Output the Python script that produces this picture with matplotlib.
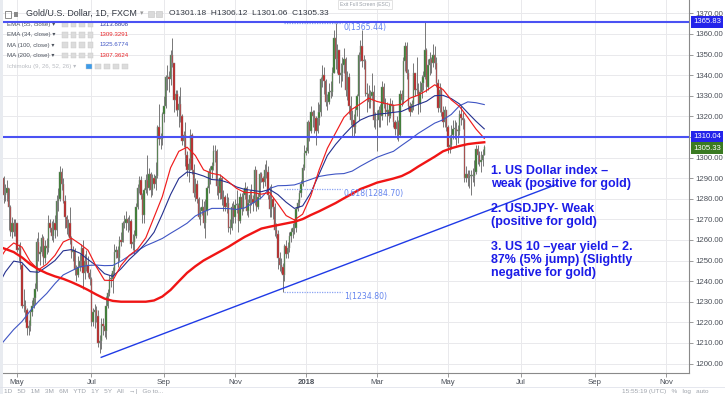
import numpy as np
import pandas as pd
import matplotlib
matplotlib.use("Agg")
import matplotlib.pyplot as plt
from matplotlib.patches import Rectangle

plt.rcParams['font.family'] = ['Liberation Sans', 'DejaVu Sans']

# ---------------- data (daily bars, Gold/USD, FXCM) ----------------
start_date = "2017-04-13"
first_open = 1284.0

close = [
    # Apr 2017
    1285, 1286, 1284, 1290, 1282, 1283, 1285, 1276, 1264, 1268, 1264, 1268,
    # May 2017
    1255, 1256, 1248, 1228, 1228, 1226, 1217, 1218, 1225, 1228, 1232, 1236, 1259, 1253, 1254, 1261, 1251, 1257, 1256, 1268, 1266, 1262, 1268,
    # Jun 2017
    1265, 1279, 1280, 1293, 1287, 1279, 1271, 1266, 1268, 1261, 1254, 1255, 1246, 1243, 1247, 1250, 1256, 1244, 1250, 1248, 1244, 1241,
    # Jul 2017
    1220, 1225, 1226, 1223, 1210, 1211, 1219, 1218, 1216, 1228, 1234, 1241, 1241, 1245, 1254, 1255, 1251, 1260, 1259, 1268, 1268,
    # Aug 2017
    1270, 1268, 1269, 1258, 1259, 1262, 1276, 1285, 1289, 1282, 1272, 1284, 1289, 1285, 1292, 1284, 1290, 1287, 1291, 1315, 1309, 1309, 1321,
    # Sep 2017
    1325, 1339, 1339, 1338, 1350, 1346, 1328, 1331, 1323, 1326, 1320, 1308, 1311, 1301, 1294, 1297, 1311, 1294, 1283, 1287, 1280,
    # Oct 2017
    1271, 1274, 1276, 1268, 1274, 1285, 1293, 1294, 1296, 1303, 1303, 1286, 1283, 1290, 1280, 1281, 1276, 1278, 1266, 1266, 1276, 1271,
    # Nov 2017
    1277, 1277, 1269, 1281, 1275, 1282, 1285, 1274, 1278, 1282, 1280, 1278, 1294, 1276, 1281, 1292, 1290, 1288, 1294, 1293, 1282, 1275,
    # Dec 2017
    1280, 1276, 1265, 1263, 1251, 1248, 1247, 1243, 1257, 1253, 1256, 1262, 1264, 1266, 1266, 1275, 1278, 1283, 1287, 1295, 1302,
    # Jan 2018
    1303, 1317, 1313, 1322, 1320, 1319, 1313, 1319, 1322, 1338, 1340, 1337, 1327, 1327, 1332, 1332, 1341, 1358, 1348, 1352, 1340, 1341, 1345,
    # Feb 2018
    1348, 1333, 1339, 1325, 1318, 1318, 1315, 1323, 1330, 1350, 1354, 1347, 1347, 1331, 1331, 1327, 1330, 1332, 1318, 1318,
    # Mar 2018
    1318, 1323, 1320, 1334, 1326, 1322, 1323, 1320, 1326, 1325, 1317, 1314, 1317, 1311, 1331, 1328, 1347, 1354, 1341, 1325, 1322, 1326,
    # Apr 2018
    1341, 1333, 1333, 1326, 1332, 1336, 1339, 1352, 1334, 1345, 1348, 1346, 1350, 1346, 1336, 1324, 1333, 1322, 1317, 1323, 1315,
    # May 2018
    1305, 1306, 1311, 1314, 1314, 1313, 1313, 1321, 1319, 1318, 1290, 1292, 1290, 1291, 1291, 1291, 1293, 1304, 1301, 1298, 1299, 1301.18, 1305.33,
]

high = [
    1289, 1288, 1295, 1292, 1291, 1287, 1289, 1285, 1277, 1271, 1270, 1270,
    1268, 1258, 1259, 1249, 1236, 1231, 1227, 1221, 1226, 1231, 1236, 1239, 1261, 1264, 1257, 1263, 1262, 1260, 1261, 1272, 1270, 1269, 1270,
    1272, 1282, 1285, 1296, 1295, 1290, 1282, 1272, 1270, 1276, 1262, 1257, 1256, 1248, 1252, 1253, 1258, 1260, 1253, 1255, 1252, 1246,
    1242, 1227, 1229, 1228, 1226, 1214, 1222, 1222, 1220, 1233, 1236, 1243, 1244, 1247, 1258, 1257, 1257, 1262, 1264, 1269, 1272,
    1274, 1271, 1272, 1270, 1263, 1265, 1278, 1287, 1291, 1291, 1283, 1285, 1292, 1301, 1295, 1293, 1292, 1292, 1298, 1316, 1326, 1312, 1322,
    1330, 1340, 1345, 1342, 1352, 1358, 1338, 1333, 1333, 1330, 1334, 1321, 1313, 1317, 1303, 1300, 1314, 1312, 1297, 1290, 1289,
    1281, 1276, 1280, 1279, 1280, 1286, 1295, 1296, 1298, 1306, 1306, 1304, 1289, 1292, 1291, 1284, 1282, 1283, 1281, 1270, 1278, 1279,
    1280, 1284, 1278, 1283, 1283, 1284, 1288, 1286, 1280, 1284, 1287, 1282, 1296, 1294, 1283, 1293, 1293, 1291, 1297, 1299, 1296, 1286,
    1287, 1281, 1278, 1268, 1265, 1254, 1251, 1249, 1258, 1260, 1259, 1264, 1266, 1268, 1270, 1276, 1280, 1284, 1289, 1297, 1306,
    1305, 1318, 1316, 1325, 1323, 1323, 1320, 1327, 1326, 1339, 1345, 1344, 1338, 1331, 1336, 1337, 1344, 1362, 1365.4, 1355, 1352, 1346, 1349,
    1353, 1349, 1342, 1341, 1330, 1323, 1321, 1325, 1331, 1351, 1357, 1362, 1350, 1348, 1336, 1335, 1333, 1341, 1335, 1322,
    1323, 1325, 1326, 1337, 1336, 1329, 1327, 1325, 1329, 1328, 1326, 1318, 1320, 1318, 1333, 1333, 1349, 1356, 1356, 1343, 1327, 1328,
    1346, 1341, 1349, 1336, 1337, 1340, 1342, 1366, 1353, 1348, 1351, 1349, 1355, 1354, 1349, 1338, 1336, 1334, 1325, 1325, 1323,
    1316, 1311, 1316, 1318, 1318, 1317, 1316, 1323, 1325, 1322, 1319, 1296, 1294, 1294, 1294, 1295, 1299, 1306, 1306, 1303, 1303, 1304, 1306.12,
]

low = [
    1278, 1283, 1282, 1281, 1278, 1279, 1279, 1265, 1262, 1261, 1262, 1262,
    1254, 1250, 1246, 1227, 1225, 1220, 1214, 1214, 1216, 1223, 1227, 1229, 1235, 1250, 1248, 1252, 1248, 1249, 1253, 1254, 1264, 1260, 1259,
    1261, 1262, 1274, 1279, 1284, 1278, 1266, 1263, 1262, 1258, 1251, 1250, 1243, 1240, 1242, 1245, 1247, 1236, 1241, 1245, 1242, 1238,
    1218, 1218, 1217, 1220, 1208, 1205, 1207, 1214, 1213, 1212, 1227, 1233, 1237, 1234, 1243, 1251, 1247, 1250, 1257, 1259, 1266,
    1265, 1264, 1265, 1256, 1255, 1253, 1261, 1275, 1283, 1280, 1268, 1268, 1283, 1282, 1284, 1281, 1282, 1285, 1284, 1290, 1306, 1304, 1306,
    1317, 1324, 1333, 1332, 1335, 1344, 1322, 1323, 1320, 1315, 1317, 1306, 1305, 1296, 1291, 1288, 1294, 1292, 1281, 1279, 1278,
    1270, 1267, 1272, 1266, 1261, 1272, 1283, 1287, 1290, 1294, 1298, 1282, 1280, 1280, 1277, 1274, 1274, 1273, 1264, 1263, 1265, 1268,
    1268, 1273, 1264, 1268, 1272, 1274, 1280, 1272, 1271, 1273, 1277, 1274, 1277, 1274, 1275, 1280, 1288, 1285, 1286, 1290, 1280, 1271,
    1271, 1270, 1262, 1261, 1246, 1245, 1244, 1234.8, 1240, 1251, 1251, 1254, 1259, 1261, 1263, 1264, 1274, 1276, 1281, 1286, 1294,
    1301, 1302, 1308, 1312, 1315, 1312, 1306, 1312, 1316, 1320, 1334, 1331, 1325, 1323, 1326, 1329, 1330, 1341, 1343, 1341, 1336, 1334, 1337,
    1341, 1330, 1328, 1321, 1316, 1310, 1310, 1312, 1320, 1318, 1347, 1344, 1343, 1330, 1322, 1324, 1324, 1328, 1315, 1314,
    1303, 1315, 1315, 1318, 1324, 1320, 1316, 1317, 1319, 1322, 1315, 1311, 1309, 1308, 1310, 1325, 1326, 1342, 1338, 1323, 1320, 1322,
    1323, 1330, 1331, 1321, 1322, 1329, 1333, 1338, 1332, 1333, 1340, 1341, 1344, 1343, 1334, 1322, 1322, 1320, 1315, 1315, 1313,
    1302, 1302, 1304, 1309, 1309, 1306, 1307, 1311, 1316, 1314, 1288, 1288, 1286, 1285, 1282, 1288, 1286, 1292, 1297, 1296, 1293, 1296, 1301.06,
]

# indicator values, one reading every 5 bars from the first bar
ma_step = 5
ema55 = [1237, 1244.5, 1249.7, 1249, 1244.6, 1244.3, 1247, 1250, 1254.7, 1255.3,
         1253.6, 1250.5, 1247.5, 1243.6, 1242.3, 1246, 1250.5, 1254.2, 1258.5, 1263.7,
         1272.5, 1282, 1289.8, 1293, 1292.3, 1291, 1289.3, 1289, 1287.8, 1285.7,
         1284.5, 1284, 1283.4, 1284.5, 1282, 1278.3, 1275.3, 1276.5, 1283, 1292,
         1301, 1306.4, 1311, 1315.2, 1318.2, 1320, 1321, 1321.4, 1321.9, 1322.4,
         1324.2, 1325.8, 1327.3, 1330, 1330.2, 1328.6, 1326, 1321.7, 1317.6, 1313.9]
ema34 = [1249, 1255, 1258.5, 1256.5, 1249.5, 1245.5, 1248.2, 1252.5, 1259, 1260.8,
         1258.1, 1255, 1247, 1240.4, 1240.3, 1247.6, 1252.5, 1255.5, 1261, 1271,
         1281, 1295, 1303, 1305, 1301, 1294, 1292.3, 1291.5, 1288.3, 1285,
         1283, 1283, 1282.2, 1283, 1277.5, 1271.8, 1269.7, 1272.5, 1281.5, 1294,
         1304.5, 1312, 1319.5, 1323.5, 1326, 1328.8, 1327.2, 1326.3, 1325.3, 1325.8,
         1328.8, 1330.3, 1332.5, 1335.3, 1333, 1328, 1324.8, 1319.4, 1313.8, 1309.3]
ma100 = [1207, 1211.8, 1216.5, 1220.4, 1225.6, 1230.1, 1234, 1238.8, 1243, 1245,
         1246.9, 1247.6, 1247.8, 1247.5, 1247.6, 1249.7, 1252.3, 1254.8, 1257.2, 1258.9,
         1260.7, 1263.2, 1265.6, 1268.1, 1271.6, 1273.6, 1275.3, 1275.3, 1275.2, 1274.8,
         1275.6, 1278, 1280.5, 1285, 1286.3, 1286.4, 1286.7, 1288, 1289.4, 1290.8,
         1291.5, 1292, 1292.2, 1293.4, 1295.8, 1298, 1300.1, 1301.6, 1303, 1305.9,
         1308.7, 1311.7, 1314.2, 1316.7, 1318.3, 1320.9, 1325.1, 1327, 1326.6, 1325.7]
ma200 = [1257, 1255.6, 1254.1, 1251.5, 1248.2, 1245.7, 1243.8, 1242.3, 1241.1, 1239.5,
         1237.7, 1235.7, 1233.5, 1231.5, 1230.4, 1230, 1230, 1230, 1230, 1230.6,
         1232.5, 1235.7, 1239.9, 1244.0, 1247.2, 1250.0, 1252.2, 1254.4, 1256.6, 1259.1,
         1261.5, 1263.5, 1265.5, 1266.4, 1267.2, 1268.0, 1268.8, 1270.1, 1272.1, 1273.9,
         1275.9, 1277.9, 1280.2, 1282.4, 1284.7, 1286.2, 1287.8, 1288.8, 1289.8, 1291.0,
         1293.0, 1295.6, 1298.0, 1300.4, 1303.0, 1304.5, 1305.6, 1306.5, 1307.0, 1307.4]

hline_levels = [1365.83, 1310.04]
last_price = 1305.33
trend_dates = ["2017-07-11", "2018-07-31"]
trend_prices = [1203.0, 1286.7]
fib_dates = ["2017-12-13", "2018-01-31"]
fib_high, fib_low = 1365.44, 1234.80
fib_levels = [0, 0.618, 1]

y_ticks = list(range(1200, 1371, 10))
month_ticks = [("2017-05-01", "May"), ("2017-07-03", "Jul"), ("2017-09-01", "Sep"),
               ("2017-11-01", "Nov"), ("2018-01-01", "2018"), ("2018-03-01", "Mar"),
               ("2018-05-01", "May"), ("2018-07-02", "Jul"), ("2018-09-03", "Sep"),
               ("2018-11-01", "Nov")]

notes = ["1. US Dollar index \u2013", "weak (positive for gold)",
         "2. USDJPY- Weak", "(positive for gold)",
         "3. US 10 \u2013year yield \u2013 2.", "87% (5% jump) (Slightly",
         "negative for gold)"]

legend_rows = [("EMA (55, close)", "1313.8808", "#2b3596"),
               ("EMA (34, close)", "1309.3291", "#e8262a"),
               ("MA (100, close)", "1325.6774", "#3f55c4"),
               ("MA (200, close)", "1307.3624", "#e8262a")]

# ---------------- derived ----------------
close = np.array(close, float)
high = np.array(high, float)
low = np.array(low, float)
n = len(close)
assert len(high) == n and len(low) == n
opens = np.r_[first_open, close[:-1]]
high = np.maximum(high, np.maximum(opens, close))
low = np.minimum(low, np.minimum(opens, close))
idx = np.arange(n)

all_days = pd.bdate_range(start_date, "2018-12-31")
def pos(d):
    return int(all_days.searchsorted(pd.Timestamp(d)))

W, H = 725, 394
fig = plt.figure(figsize=(W / 100, H / 100), dpi=100)
ax = fig.add_axes([0, 1 - 373 / H, 689 / W, 373 / H])
ax.set_xlim(1.70, 419.0)
ax.set_ylim(1195.39, 1376.46)

def fx(x):
    return x / W
def fy(y):
    return 1 - y / H

# grid
ax.set_axisbelow(True)
ax.grid(True, color='#e9e9ec', lw=0.7)

# candles
ax.vlines(idx, low, high, color='#6e6e6e', lw=0.65, zorder=2)
up = close >= opens
body = np.maximum(np.abs(close - opens), 0.35)
bottom = np.minimum(close, opens)
ax.bar(idx[up], body[up], bottom=bottom[up], width=0.82, color='#2c7a22',
       edgecolor='#8c8c8c', linewidth=0.35, zorder=3)
ax.bar(idx[~up], body[~up], bottom=bottom[~up], width=0.82, color='#c21a1a',
       edgecolor='#8c8c8c', linewidth=0.35, zorder=3)

# moving averages
ma_x = np.arange(0, n, ma_step)
ax.plot(ma_x, ma100, color='#3f55c4', lw=0.8, zorder=4)
ax.plot(ma_x, ema55, color='#24308f', lw=0.8, zorder=4)
ax.plot(ma_x, ema34, color='#f01c1c', lw=0.85, zorder=4)
ax.plot(ma_x, ma200, color='#f01515', lw=1.7, zorder=4)

# horizontal levels
for lv in hline_levels:
    ax.axhline(lv, color='#4b52f3', lw=1.5, zorder=6)

# trend line
ax.plot([pos(d) for d in trend_dates], trend_prices, color='#1f3ae6', lw=1.0, zorder=6)

# fibonacci
f0, f1 = pos(fib_dates[0]), pos(fib_dates[1])
for lv in fib_levels:
    p = fib_high - lv * (fib_high - fib_low)
    ax.plot([f0, f1], [p, p], color='#8aa3f3', lw=0.9, ls=(0, (1, 1)), zorder=5)
    lab = f"{lv:g}({p:.2f})"
    ax.text(f1 + 1, p, lab, color='#6384ee', fontsize=5.6, va='top', ha='left', zorder=7,
            family=['DejaVu Sans'])

# axes styling
ax.yaxis.tick_right()
ax.set_yticks(y_ticks)
# the 1310 label sits under the 1310.04 level box on the price scale
ax.set_yticklabels(["" if v == 1310 else f"{v:.2f}" for v in y_ticks])
ax.tick_params(axis='y', length=3, width=0.6, color='#8a8a8a', pad=1.5,
               labelsize=5.6, labelcolor='#4a4f58')
ax.set_xticks([pos(d) for d, _ in month_ticks])
ax.set_xticklabels([lab for _, lab in month_ticks])
ax.tick_params(axis='x', length=3, width=0.6, color='#8a8a8a', pad=1.5,
               labelsize=5.6, labelcolor='#4a4f58')
for t in ax.get_xticklabels():
    if t.get_text() == "2018":
        t.set_fontweight('bold')
for s in ['top', 'left']:
    ax.spines[s].set_visible(False)
for s in ['right', 'bottom']:
    ax.spines[s].set_color('#8a8a8a')
    ax.spines[s].set_linewidth(0.8)

# price labels on the axis
for val, txt, col in [(1365.83, "1365.83", '#2424ea'), (1310.04, "1310.04", '#2424ea'),
                      (1304.6, f"{last_price:.2f}", '#3a7a22')]:
    ax.text(1.006, val, txt, transform=ax.get_yaxis_transform(), fontsize=5.6,
            color='white', va='center', ha='left', zorder=10, clip_on=False,
            bbox=dict(boxstyle='square,pad=0.28', fc=col, ec='none'))

# annotation text
note_y = [171, 184, 209, 222, 247, 260, 273]
for t, y in zip(notes, note_y):
    fig.text(fx(491), fy(y), t, color='#1c1ce8', fontsize=9, fontweight='bold',
             va='center', ha='left')

# top legend
tf = fig.transFigure
ax.text(fx(26), fy(13.5), "Gold/U.S. Dollar, 1D, FXCM", transform=tf, fontsize=6.4,
        color='#333842', va='center', ha='left', zorder=1)
ax.text(fx(140), fy(13.5), "\u25be", transform=tf, fontsize=5, color='#9a9a9a',
        va='center', zorder=1)
ax.text(fx(169), fy(13.5), "O1301.18  H1306.12  L1301.06  C1305.33", transform=tf,
        fontsize=6.0, color='#333842', va='center', ha='left', zorder=1)
fig.patches.append(Rectangle((fx(5), fy(17.5)), 6 / W, 7 / H, transform=tf,
                             fc='none', ec='#7a7a7a', lw=0.6))
fig.patches.append(Rectangle((fx(14), fy(16.5)), 4 / W, 5 / H, transform=tf,
                             fc='#8a8a8a', ec='none'))
for x0 in (148, 156):
    fig.patches.append(Rectangle((fx(x0), fy(17)), 6 / W, 6 / H, transform=tf,
                                 fc='#dadada', ec='#c4c4c4', lw=0.4))

row_y = [24.3, 34.7, 45, 55.3]
for (name, val, col), y in zip(legend_rows, row_y):
    ax.text(fx(7), fy(y), name + " \u25be", transform=tf, fontsize=4.4, color='#4d535e',
            va='center', ha='left', zorder=1)
    for x0 in (62, 70.5, 79, 87.5):
        r = Rectangle((fx(x0), fy(y + 2.8)), 5.5 / W, 5.5 / H, transform=tf,
                      fc='#dcdcdc', ec='#c8c8c8', lw=0.3, zorder=1)
        ax.add_artist(r)
    ax.text(fx(100), fy(y), val, transform=tf, fontsize=4.4, color=col,
            va='center', ha='left', zorder=1)
ax.text(fx(7), fy(66.5), "Ichimoku (9, 26, 52, 26) \u25be", transform=tf, fontsize=4.4,
        color='#b9bcc2', va='center', ha='left', zorder=1)
for k, x0 in enumerate((86, 95, 104, 113, 122)):
    r = Rectangle((fx(x0), fy(69.3)), 5.5 / W, 5.5 / H, transform=tf,
                  fc='#3d9be9' if k == 0 else '#dcdcdc', ec='#c8c8c8', lw=0.3, zorder=1)
    ax.add_artist(r)

# tooltip
fig.text(fx(365), fy(4.5), "Exit Full Screen (ESC)", fontsize=3.6, color='#9aa0a8',
         ha='center', va='center',
         bbox=dict(boxstyle='square,pad=0.4', fc='white', ec='#d8d8d8', lw=0.5))

# left toolbar edge and bottom toolbar
fig.patches.append(Rectangle((0, 0), 2.5 / W, 1, transform=tf, fc='#e8ebf0', ec='none'))
fig.lines.append(plt.Line2D([0, 1], [fy(386.5), fy(386.5)], transform=tf,
                            color='#e0e3eb', lw=0.6))
fig.text(fx(4), fy(389.5), "1D   5D   1M   3M   6M   YTD   1Y   5Y   All   \u2192|   Go to...",
         fontsize=4.6, color='#9ea3ab', va='top', ha='left')
fig.text(fx(708), fy(389.5), "15:55:19 (UTC)   %   log   auto", fontsize=4.6,
         color='#9ea3ab', va='top', ha='right')

fig.savefig("out.png", dpi=100, facecolor='white')
